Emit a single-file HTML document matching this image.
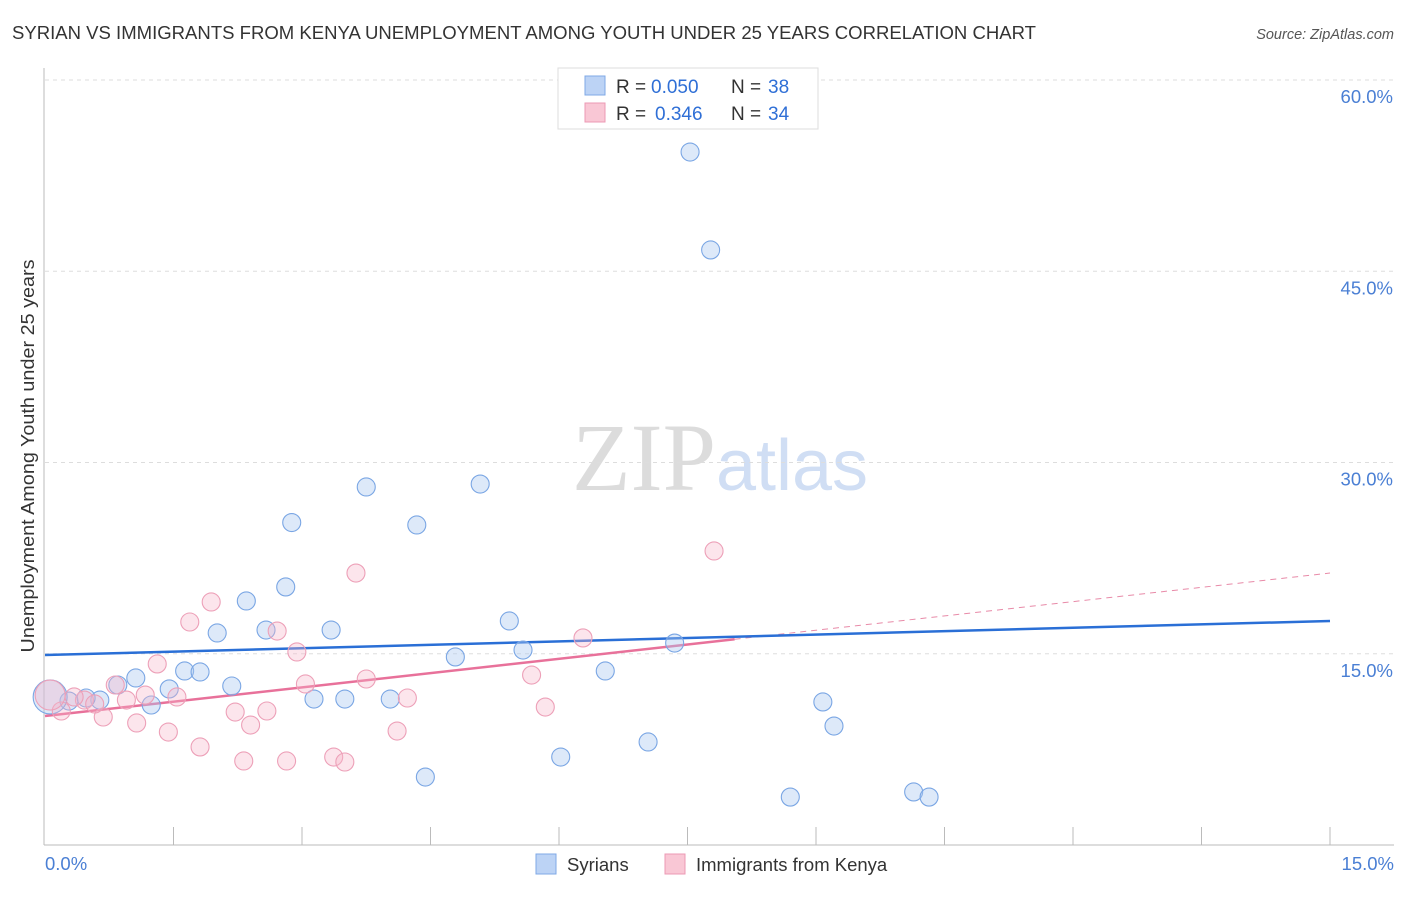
<!DOCTYPE html>
<html><head><meta charset="utf-8">
<style>
body{margin:0;background:#fff;font-family:"Liberation Sans",sans-serif;}
svg text{font-family:"Liberation Sans",sans-serif;}
</style></head>
<body>
<svg width="1406" height="892" viewBox="0 0 1406 892" xmlns="http://www.w3.org/2000/svg" id="chart">
<text x="12" y="39" font-size="18" fill="#333" textLength="1024" lengthAdjust="spacingAndGlyphs">SYRIAN VS IMMIGRANTS FROM KENYA UNEMPLOYMENT AMONG YOUTH UNDER 25 YEARS CORRELATION CHART</text>
<text x="1394" y="39" font-size="14.5" fill="#555" text-anchor="end" font-style="italic">Source: ZipAtlas.com</text>
<text x="720" y="490" font-size="96" text-anchor="middle"><tspan fill="#dcdcdc" font-family="Liberation Serif">ZIP</tspan><tspan fill="#d0def4" font-size="72">atlas</tspan></text>
<g id="grid"></g>
<g id="axes"></g>
<g id="trend"></g>
<g id="pts"></g>
<text transform="translate(34,456) rotate(-90)" font-size="18" fill="#333" text-anchor="middle" textLength="393" lengthAdjust="spacingAndGlyphs">Unemployment Among Youth under 25 years</text>
<g>
<rect x="558" y="68" width="260" height="61" fill="#fff" stroke="#ddd"/>
<rect x="585" y="76" width="20" height="19" fill="#bcd3f5" stroke="#7fa8e6"/>
<text x="616" y="93" font-size="19" fill="#333">R =</text>
<text x="651" y="93" font-size="19" fill="#2f6fd6">0.050</text>
<text x="731" y="93" font-size="19" fill="#333">N =</text>
<text x="768" y="93" font-size="19" fill="#2f6fd6">38</text>
<rect x="585" y="103" width="20" height="19" fill="#f9c7d5" stroke="#ec9ab4"/>
<text x="616" y="120" font-size="19" fill="#333">R =</text>
<text x="655" y="120" font-size="19" fill="#2f6fd6">0.346</text>
<text x="731" y="120" font-size="19" fill="#333">N =</text>
<text x="768" y="120" font-size="19" fill="#2f6fd6">34</text>
</g>
<g>
<rect x="536" y="854" width="20" height="20" fill="#bcd3f5" stroke="#7fa8e6"/>
<text x="567" y="871" font-size="18.5" fill="#333">Syrians</text>
<rect x="665" y="854" width="20" height="20" fill="#f9c7d5" stroke="#ec9ab4"/>
<text x="696" y="871" font-size="18.5" fill="#333">Immigrants from Kenya</text>
</g>
</svg>
<script>
const yTicks=[15,30,45,60];
const yTickLabels=["15.0%","30.0%","45.0%","60.0%"];
const syrX=[7.53,7.77,2.88,3.75,5.08,4.34,2.35,2.81,2.58,3.34,2.01,5.42,5.58,4.79,7.35,1.06,1.63,1.81,1.45,2.18,1.24,0.64,0.28,0.48,3.14,3.50,4.03,6.54,9.08,9.21,7.04,6.02,4.44,8.70,10.14,10.32,0.06,0.85];
const syrY=[54.35,46.67,25.29,28.08,28.31,25.10,19.14,20.24,16.86,16.86,16.63,17.57,15.29,14.75,15.84,13.10,13.65,13.57,12.24,12.47,10.98,11.37,11.29,11.53,11.45,11.45,11.45,13.65,11.22,9.33,8.08,6.90,5.33,3.76,4.16,3.76,11.61,12.55];
const kenX=[7.81,3.63,1.94,1.69,2.71,2.94,1.31,6.28,5.68,3.75,3.04,0.82,1.17,1.54,4.23,0.95,0.46,0.68,1.07,2.22,2.59,2.40,5.84,4.11,1.44,1.81,2.32,2.82,3.37,3.50,0.19,0.06,0.34,0.58];
const kenY=[23.06,21.33,19.06,17.49,16.78,15.14,14.20,16.24,13.33,13.02,12.63,12.55,11.76,11.61,11.53,11.37,11.37,10.04,9.57,10.43,10.51,9.41,10.82,8.94,8.86,7.69,6.59,6.59,6.90,6.51,10.51,11.76,11.61,11.06];
const syrTrend=[14.90,17.57];
const kenTrend=[10.12,21.33];
const kenSolidEnd=8.05;
const NS="http://www.w3.org/2000/svg";
const X=v=>45+v/15*1285, Y=v=>845-v/60*765;
function mk(t,a,p){const e=document.createElementNS(NS,t);for(const k in a)e.setAttribute(k,a[k]);p.appendChild(e);return e;}
const grid=document.getElementById('grid'),axes=document.getElementById('axes'),trend=document.getElementById('trend'),pts=document.getElementById('pts');
yTicks.forEach((v,i)=>{
 const l=mk('line',{x1:45,x2:1394,y1:Y(v),y2:Y(v),stroke:'#ddd','stroke-dasharray':'4,4'},grid);
 
 
 const t=mk('text',{x:1393,y:Y(v)+23,'font-size':18.5,fill:'#4a7fd4','text-anchor':'end'},axes);t.textContent=yTickLabels[i];
 
 
});
let a=mk('line',{x1:44,x2:44,y1:68,y2:845,stroke:'#bbb'},axes);


a=mk('line',{x1:44,x2:1394,y1:845,y2:845,stroke:'#bbb'},axes);


for(let i=1;i<=10;i++){const t=mk('line',{x1:X(i*1.5),x2:X(i*1.5),y1:827,y2:845,stroke:'#bbb'},axes);
 
 }
let t1=mk('text',{x:45,y:870,'font-size':18.5,fill:'#4a7fd4'},axes);t1.textContent='0.0%';


let t2=mk('text',{x:1394,y:870,'font-size':18.5,fill:'#4a7fd4','text-anchor':'end'},axes);t2.textContent='15.0%';


syrX.forEach((x,i)=>{const c=mk('circle',{cx:X(x),cy:Y(syrY[i]),r:(i===36?17:9),fill:'rgba(170,200,240,0.4)',stroke:'#7aa6e4','stroke-width':1.1},pts);
 
 });
kenX.forEach((x,i)=>{const c=mk('circle',{cx:X(x),cy:Y(kenY[i]),r:(i===31?15:9),fill:'rgba(245,180,200,0.35)',stroke:'#eda0b8','stroke-width':1.1},pts);
 
 });
const ky=v=>kenTrend[0]+(kenTrend[1]-kenTrend[0])*v/15;
let l=mk('line',{x1:X(kenSolidEnd),y1:Y(ky(kenSolidEnd)),x2:X(15),y2:Y(kenTrend[1]),stroke:'#e88aa8','stroke-dasharray':'6,5','stroke-width':1},trend);


l=mk('line',{x1:X(0),y1:Y(kenTrend[0]),x2:X(kenSolidEnd),y2:Y(ky(kenSolidEnd)),stroke:'#e8719a','stroke-width':2.5},trend);


l=mk('line',{x1:X(0),y1:Y(syrTrend[0]),x2:X(15),y2:Y(syrTrend[1]),stroke:'#2a6fd6','stroke-width':2.5},trend);


</script>
</body></html>
